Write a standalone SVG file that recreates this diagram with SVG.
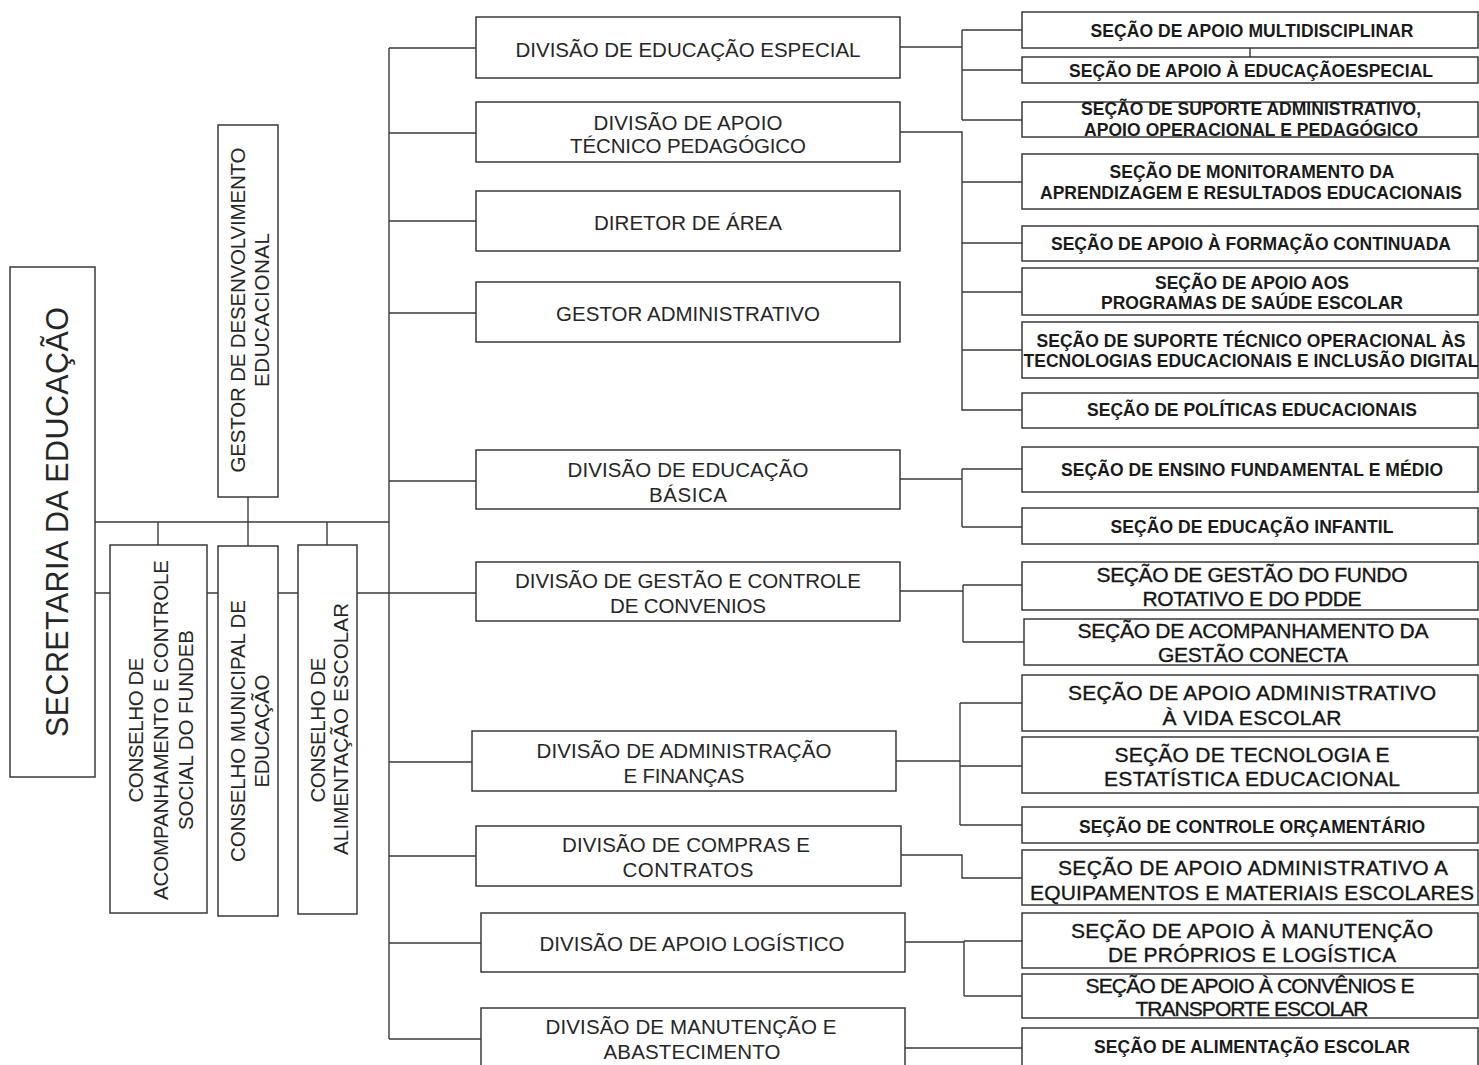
<svg xmlns="http://www.w3.org/2000/svg" width="1479" height="1065" viewBox="0 0 1479 1065">
<style>
.bg{fill:#ffffff}
.box{fill:#ffffff;stroke:#3a3a3a;stroke-width:1.5}
.ln{fill:none;stroke:#3a3a3a;stroke-width:1.4}
.t{font-family:"Liberation Sans",Arial,sans-serif;fill:#1e1e1e;text-anchor:middle}
.dv{font-size:20.5px;fill:#262626}
.sb{font-size:17.5px;font-weight:bold;fill:#1a1a1a}
.sl{font-size:21px;fill:#151515;stroke:#151515;stroke-width:0.35}
.vt{font-size:20.5px;fill:#262626}
.big{font-size:30.5px;fill:#262626}
</style>
<rect class="bg" x="0" y="0" width="1479" height="1065"/>
<g id="connectors">
<path class="ln" d="M389 48 V1039 M389 48 H476 M389 133 H476 M389 221 H476 M389 313 H476 M389 481 H476 M389 762 H472 M389 856 H476 M389 943 H481 M389 1039 H481"/>
<path class="ln" d="M95 522 H389 M95 593 H476 M158 522 V545 M248 497 V546 M327 522 V545"/>
<path class="ln" d="M900 47 H962 M962 30 V120 M962 30 H1022 M962 70 H1022 M962 120 H1022"/>
<path class="ln" d="M900 132 H962 V410 H1022 M962 182 H1022 M962 243 H1022 M962 292 H1022 M962 350 H1022"/>
<path class="ln" d="M900 479 H962 M962 469 V527 M962 469 H1022 M962 527 H1022"/>
<path class="ln" d="M900 591 H963 M963 585 V642 M963 585 H1022 M963 642 H1024"/>
<path class="ln" d="M896 761 H960 M960 703 V825 M960 703 H1022 M960 766 H1022 M960 825 H1022"/>
<path class="ln" d="M901 855 H962 V878 H1022"/>
<path class="ln" d="M905 942 H964 M964 941 V996 M964 941 H1022 M964 996 H1022"/>
<path class="ln" d="M905 1048 H1022"/>
<path class="ln" d="M1250 48 V57"/>
</g>
<g id="secretaria">
<rect class="box" x="10" y="267" width="85" height="510"/>
<text class="t big" x="68" y="522" transform="rotate(-90 68 522)" textLength="430">SECRETARIA DA EDUCAÇÃO</text>
</g>
<g id="gestor-desenvolvimento">
<rect class="box" x="218" y="125" width="60" height="372"/>
<text class="t vt" x="245" y="310" transform="rotate(-90 245 310)" textLength="325">GESTOR DE DESENVOLVIMENTO</text>
<text class="t vt" x="269" y="310" transform="rotate(-90 269 310)" textLength="154">EDUCACIONAL</text>
</g>
<g id="conselho-fundeb">
<rect class="box" x="110" y="545" width="97" height="368"/>
<text class="t vt" x="143" y="730" transform="rotate(-90 143 730)" textLength="145">CONSELHO DE</text>
<text class="t vt" x="168" y="730" transform="rotate(-90 168 730)" textLength="340">ACOMPANHAMENTO E CONTROLE</text>
<text class="t vt" x="193" y="730" transform="rotate(-90 193 730)" textLength="200">SOCIAL DO FUNDEB</text>
</g>
<g id="conselho-municipal">
<rect class="box" x="218" y="546" width="60" height="370"/>
<text class="t vt" x="245" y="731" transform="rotate(-90 245 731)" textLength="262">CONSELHO MUNICIPAL DE</text>
<text class="t vt" x="269" y="731" transform="rotate(-90 269 731)" textLength="113">EDUCAÇÃO</text>
</g>
<g id="conselho-alimentacao">
<rect class="box" x="298" y="545" width="59" height="369"/>
<text class="t vt" x="325" y="730" transform="rotate(-90 325 730)" textLength="145">CONSELHO DE</text>
<text class="t vt" x="348" y="729" transform="rotate(-90 348 729)" textLength="252">ALIMENTAÇÃO ESCOLAR</text>
</g>
<g id="div-educacao-especial">
<rect class="box" x="476" y="17" width="424" height="61"/>
<text class="t dv" x="688" y="57" textLength="345">DIVISÃO DE EDUCAÇÃO ESPECIAL</text>
</g>
<g id="div-apoio-tecnico">
<rect class="box" x="476" y="102" width="424" height="60"/>
<text class="t dv" x="688" y="130" textLength="189">DIVISÃO DE APOIO</text>
<text class="t dv" x="688" y="153" textLength="236">TÉCNICO PEDAGÓGICO</text>
</g>
<g id="diretor-area">
<rect class="box" x="476" y="191" width="424" height="60"/>
<text class="t dv" x="688" y="230" textLength="188">DIRETOR DE ÁREA</text>
</g>
<g id="gestor-administrativo">
<rect class="box" x="476" y="282" width="424" height="60"/>
<text class="t dv" x="688" y="321" textLength="264">GESTOR ADMINISTRATIVO</text>
</g>
<g id="div-educacao-basica">
<rect class="box" x="476" y="450" width="424" height="59"/>
<text class="t dv" x="688" y="477" textLength="241">DIVISÃO DE EDUCAÇÃO</text>
<text class="t dv" x="688" y="502" textLength="78">BÁSICA</text>
</g>
<g id="div-gestao-convenios">
<rect class="box" x="476" y="562" width="424" height="59"/>
<text class="t dv" x="688" y="588" textLength="346">DIVISÃO DE GESTÃO E CONTROLE</text>
<text class="t dv" x="688" y="613" textLength="156">DE CONVENIOS</text>
</g>
<g id="div-administracao-financas">
<rect class="box" x="472" y="731" width="424" height="60"/>
<text class="t dv" x="684" y="758" textLength="295">DIVISÃO DE ADMINISTRAÇÃO</text>
<text class="t dv" x="684" y="783" textLength="121">E FINANÇAS</text>
</g>
<g id="div-compras-contratos">
<rect class="box" x="476" y="826" width="425" height="60"/>
<text class="t dv" x="686" y="852" textLength="248">DIVISÃO DE COMPRAS E</text>
<text class="t dv" x="688" y="877" textLength="131">CONTRATOS</text>
</g>
<g id="div-apoio-logistico">
<rect class="box" x="481" y="913" width="424" height="59"/>
<text class="t dv" x="692" y="951" textLength="305">DIVISÃO DE APOIO LOGÍSTICO</text>
</g>
<g id="div-manutencao-abastecimento">
<rect class="box" x="481" y="1008" width="424" height="62"/>
<text class="t dv" x="691" y="1034" textLength="291">DIVISÃO DE MANUTENÇÃO E</text>
<text class="t dv" x="692" y="1059" textLength="177">ABASTECIMENTO</text>
</g>
<g id="sec-multidisciplinar">
<rect class="box" x="1022" y="12" width="456" height="36"/>
<text class="t sb" x="1252" y="37" textLength="323">SEÇÃO DE APOIO MULTIDISCIPLINAR</text>
</g>
<g id="sec-educacao-especial">
<rect class="box" x="1022" y="57" width="456" height="26"/>
<text class="t sb" x="1251" y="77" textLength="364">SEÇÃO DE APOIO À EDUCAÇÃOESPECIAL</text>
</g>
<g id="sec-suporte-administrativo">
<rect class="box" x="1022" y="102" width="456" height="35"/>
<text class="t sb" x="1251" y="115" textLength="340">SEÇÃO DE SUPORTE ADMINISTRATIVO,</text>
<text class="t sb" x="1251" y="136" textLength="334">APOIO OPERACIONAL E PEDAGÓGICO</text>
</g>
<g id="sec-monitoramento">
<rect class="box" x="1022" y="154" width="456" height="55"/>
<text class="t sb" x="1252" y="178" textLength="285">SEÇÃO DE MONITORAMENTO DA</text>
<text class="t sb" x="1251" y="199" textLength="422">APRENDIZAGEM E RESULTADOS EDUCACIONAIS</text>
</g>
<g id="sec-formacao">
<rect class="box" x="1022" y="226" width="456" height="35"/>
<text class="t sb" x="1251" y="250" textLength="400">SEÇÃO DE APOIO À FORMAÇÃO CONTINUADA</text>
</g>
<g id="sec-saude">
<rect class="box" x="1022" y="268" width="456" height="47"/>
<text class="t sb" x="1252" y="289" textLength="194">SEÇÃO DE APOIO AOS</text>
<text class="t sb" x="1252" y="309" textLength="302">PROGRAMAS DE SAÚDE ESCOLAR</text>
</g>
<g id="sec-tecnologias">
<rect class="box" x="1022" y="322" width="456" height="56"/>
<text class="t sb" x="1251" y="347" textLength="429">SEÇÃO DE SUPORTE TÉCNICO OPERACIONAL ÀS</text>
<text class="t sb" x="1251" y="367" textLength="455">TECNOLOGIAS EDUCACIONAIS E INCLUSÃO DIGITAL</text>
</g>
<g id="sec-politicas">
<rect class="box" x="1022" y="393" width="456" height="35"/>
<text class="t sb" x="1252" y="416" textLength="330">SEÇÃO DE POLÍTICAS EDUCACIONAIS</text>
</g>
<g id="sec-ensino-fundamental">
<rect class="box" x="1022" y="447" width="456" height="45"/>
<text class="t sb" x="1252" y="476" textLength="382">SEÇÃO DE ENSINO FUNDAMENTAL E MÉDIO</text>
</g>
<g id="sec-educacao-infantil">
<rect class="box" x="1022" y="508" width="456" height="36"/>
<text class="t sb" x="1252" y="533" textLength="283">SEÇÃO DE EDUCAÇÃO INFANTIL</text>
</g>
<g id="sec-fundo-rotativo">
<rect class="box" x="1022" y="562" width="456" height="48"/>
<text class="t sl" x="1252" y="582" textLength="311">SEÇÃO DE GESTÃO DO FUNDO</text>
<text class="t sl" x="1252" y="606" textLength="219">ROTATIVO E DO PDDE</text>
</g>
<g id="sec-gestao-conecta">
<rect class="box" x="1024" y="619" width="454" height="46"/>
<text class="t sl" x="1253" y="638" textLength="351">SEÇÃO DE ACOMPANHAMENTO DA</text>
<text class="t sl" x="1253" y="662" textLength="190">GESTÃO CONECTA</text>
</g>
<g id="sec-vida-escolar">
<rect class="box" x="1022" y="675" width="456" height="56"/>
<text class="t sl" x="1252" y="700" textLength="368">SEÇÃO DE APOIO ADMINISTRATIVO</text>
<text class="t sl" x="1252" y="725" textLength="179">À VIDA ESCOLAR</text>
</g>
<g id="sec-tecnologia-estatistica">
<rect class="box" x="1022" y="737" width="456" height="56"/>
<text class="t sl" x="1252" y="762" textLength="275">SEÇÃO DE TECNOLOGIA E</text>
<text class="t sl" x="1252" y="786" textLength="296">ESTATÍSTICA EDUCACIONAL</text>
</g>
<g id="sec-controle-orcamentario">
<rect class="box" x="1022" y="807" width="456" height="36"/>
<text class="t sb" x="1252" y="833" textLength="346">SEÇÃO DE CONTROLE ORÇAMENTÁRIO</text>
</g>
<g id="sec-equipamentos">
<rect class="box" x="1022" y="850" width="456" height="55"/>
<text class="t sl" x="1253" y="875" textLength="390">SEÇÃO DE APOIO ADMINISTRATIVO A</text>
<text class="t sl" x="1252" y="900" textLength="444">EQUIPAMENTOS E MATERIAIS ESCOLARES</text>
</g>
<g id="sec-manutencao-proprios">
<rect class="box" x="1022" y="913" width="456" height="55"/>
<text class="t sl" x="1252" y="938" textLength="362">SEÇÃO DE APOIO À MANUTENÇÃO</text>
<text class="t sl" x="1252" y="962" textLength="288">DE PRÓPRIOS E LOGÍSTICA</text>
</g>
<g id="sec-transporte">
<rect class="box" x="1022" y="974" width="456" height="44"/>
<text class="t sl" x="1250" y="993" textLength="329">SEÇÃO DE APOIO À CONVÊNIOS E</text>
<text class="t sl" x="1252" y="1016" textLength="233">TRANSPORTE ESCOLAR</text>
</g>
<g id="sec-alimentacao">
<rect class="box" x="1022" y="1028" width="456" height="42"/>
<text class="t sb" x="1252" y="1053" textLength="316">SEÇÃO DE ALIMENTAÇÃO ESCOLAR</text>
</g>
</svg>
